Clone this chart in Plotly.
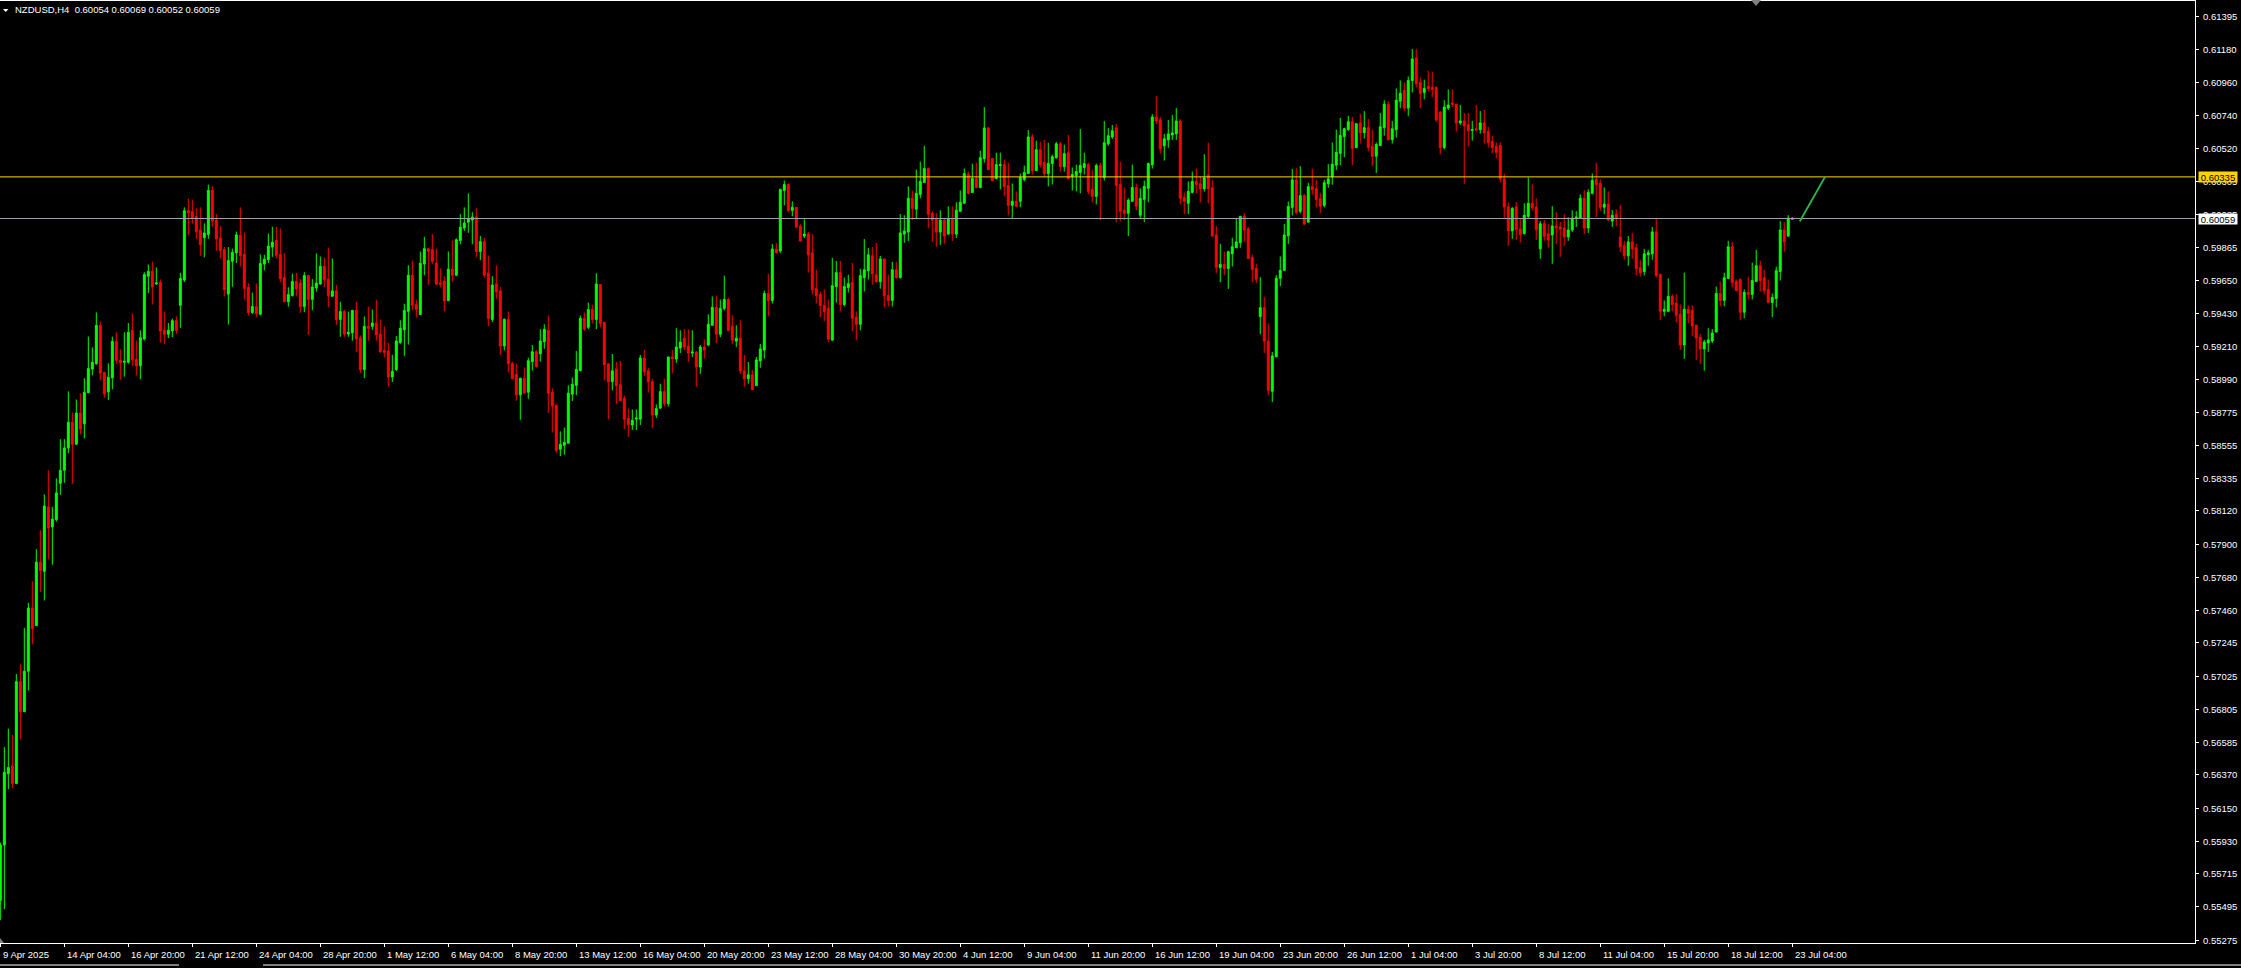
import plotly.graph_objects as go

# ---------------- data (NZDUSD, H4) ----------------
OPEN = [
0.55537,0.55906,0.56378,0.56430,0.56314,0.56988,0.56789,0.57058,0.57476,0.57360,
0.57781,0.57720,0.58146,0.58015,0.58063,0.58304,0.58390,0.58538,0.58708,0.58563,
0.58769,0.58698,0.58904,0.59061,0.59096,0.59350,0.59038,0.58910,0.59003,0.59244,
0.59119,0.59106,0.59106,0.59318,0.59125,0.59083,0.59260,0.59677,0.59709,0.59626,
0.59635,0.59318,0.59292,0.59314,0.59382,0.59484,0.59651,0.60110,0.60104,0.60072,
0.59982,0.59931,0.59953,0.60245,0.60049,0.59927,0.59854,0.59558,0.59776,0.59831,
0.59947,0.59821,0.59603,0.59436,0.59475,0.59424,0.59757,0.59786,0.59870,0.59914,
0.59821,0.59667,0.59507,0.59549,0.59642,
0.59631,0.59475,0.59681,0.59523,0.59599,
0.59625,0.59742,0.59657,0.59544,0.59579,0.59390,0.59442,0.59294,0.59301,0.59449,
0.59266,0.59058,0.59344,0.59344,0.59366,0.59292,0.59184,0.59181,0.59008,0.59058,
0.59236,0.59321,0.59444,0.59683,0.59488,0.59423,0.59757,0.59859,0.59853,0.59762,
0.59631,0.59644,0.59514,0.59723,0.59683,0.59914,0.59996,0.60035,0.60049,0.60068,
0.59840,0.59905,0.59697,0.59390,0.59625,0.59579,0.59214,0.59390,0.59097,0.59025,
0.58890,0.58999,0.58908,0.59110,0.59175,0.59162,0.59242,0.59318,0.58908,0.58819,
0.58530,0.58556,0.58569,0.58895,0.58953,0.59051,0.59397,0.59338,0.59455,0.59390,
0.59621,0.59371,0.59095,0.58977,0.59062,0.58957,0.58865,0.58734,0.58690,0.58729,
0.58729,0.59134,0.59049,0.58977,0.58756,0.58802,0.58911,0.58832,0.59141,0.59128,
0.59200,0.59266,0.59213,0.59167,0.59174,0.59075,0.59207,0.59220,0.59351,0.59470,
0.59292,0.59463,0.59522,0.59345,0.59246,0.59266,0.59049,0.58997,0.59023,0.58951,
0.59115,0.59187,0.59562,0.59516,0.59857,0.59844,0.60245,0.60284,0.60113,0.60133,
0.60008,0.59943,0.59956,0.59831,0.59594,0.59555,0.59483,0.59463,0.59253,0.59608,
0.59700,0.59489,0.59601,0.59634,0.59404,0.59358,0.59667,0.59713,0.59811,0.59686,
0.59640,0.59791,0.59548,0.59516,0.59719,
0.59667,0.59956,0.59969,0.60193,0.60121,
0.60219,0.60298,0.60390,0.60094,0.60055,0.59969,0.60048,0.59956,0.60055,0.59956,
0.60107,0.60160,0.60351,0.60232,0.60324,0.60265,0.60456,0.60659,0.60456,0.60324,
0.60410,0.60416,0.60278,0.60147,0.60173,0.60173,0.60318,0.60357,0.60600,0.60377,
0.60515,0.60430,0.60357,0.60423,0.60462,0.60554,0.60403,0.60495,0.60337,0.60344,
0.60364,0.60397,0.60416,0.60252,0.60206,0.60410,0.60331,0.60554,0.60600,0.60659,
0.60285,0.60114,0.60094,0.60173,0.60265,0.60081,0.60186,0.60259,0.60416,0.60732,
0.60712,0.60541,0.60580,0.60613,0.60620,0.60705,0.60199,0.60160,0.60232,0.60305,
0.60289,0.60256,0.60348,0.60263,0.59950,0.59735,0.59755,0.59728,0.59826,0.59865,
0.59898,0.60074,0.59989,0.59800,0.59728,0.59409,0.59468,0.59246,0.58914,0.59142,
0.59663,0.59715,0.59944,0.60133,0.60315,0.60107,0.60211,0.60035,0.60270,0.60256,
0.60191,0.60146,0.60289,0.60335,0.60413,0.60491,0.60602,0.60648,0.60700,0.60530,
0.60693,0.60628,0.60661,0.60537,0.60472,0.60543,0.60661,0.60817,0.60582,0.60648,
0.60837,0.60908,0.60791,0.60974,0.61123,0.60961,0.60895,0.60934,0.60928,0.60928,
0.60765,0.60530,0.60791,0.60824,0.60817,0.60693,0.60706,0.60680,0.60643,0.60654,
0.60648,0.60693,0.60635,0.60569,0.60537,
0.60543,0.60322,0.60136,0.59978,0.60136,
0.59989,0.59959,0.60073,0.60160,0.60134,0.59858,0.60024,0.59957,0.59950,0.60009,
0.60003,0.59996,0.59937,0.59983,0.60062,0.60062,0.60193,0.59996,0.60226,0.60318,
0.60292,0.60134,0.60154,0.60042,0.60088,0.59937,0.59878,0.59812,0.59904,0.59865,
0.59733,0.59707,0.59819,0.59825,0.59970,0.59687,0.59444,0.59444,0.59543,0.59497,
0.59424,0.59221,0.59457,0.59451,0.59352,0.59273,0.59194,0.59234,0.59247,0.59306,
0.59562,0.59516,0.59661,0.59871,0.59641,0.59654,0.59438,0.59569,0.59556,0.59641,
0.59746,0.59667,0.59589,0.59503,0.59529,0.59707,0.59983,0.59943,0.60054]

HIGH = [
0.55922,0.56555,0.56677,0.56635,0.57039,0.57103,0.57344,0.57511,0.57655,0.57867,
0.57992,0.58230,0.58390,0.58146,0.58336,0.58596,0.58596,0.58913,0.58772,0.58859,
0.58900,0.59000,0.59276,0.59205,0.59436,0.59375,0.59045,0.59099,0.59276,0.59305,
0.59192,0.59305,0.59366,0.59430,0.59250,0.59318,0.59703,0.59754,0.59773,0.59735,
0.59655,0.59443,0.59366,0.59395,0.59411,0.59699,0.60133,0.60190,0.60184,0.60126,
0.60133,0.60027,0.60284,0.60274,0.60088,0.60011,0.59870,0.59870,0.59860,0.59972,
0.60133,0.59966,0.59629,0.59568,0.59629,0.59821,0.59818,0.59959,0.60004,0.60004,
0.59991,0.59828,0.59603,0.59693,0.59699,
0.59657,0.59703,0.59681,0.59657,0.59827,
0.59807,0.59801,0.59866,0.59794,0.59618,0.59507,0.59455,0.59442,0.59455,0.59507,
0.59284,0.59410,0.59475,0.59455,0.59521,0.59390,0.59344,0.59234,0.59155,0.59279,
0.59384,0.59494,0.59749,0.59781,0.59521,0.59840,0.59938,0.59866,0.59957,0.59859,
0.59729,0.59677,0.59840,0.59912,0.59927,0.60088,0.60133,0.60225,0.60101,0.60127,
0.59944,0.59931,0.59814,0.59677,0.59749,0.59605,0.59397,0.59442,0.59110,0.59097,
0.59005,0.59071,0.59136,0.59221,0.59188,0.59325,0.59358,0.59416,0.58934,0.58829,
0.58647,0.58673,0.58953,0.59005,0.59181,0.59416,0.59436,0.59501,0.59488,0.59696,
0.59621,0.59371,0.59102,0.59161,0.59108,0.59115,0.58885,0.58799,0.58793,0.58793,
0.59154,0.59187,0.59069,0.58997,0.58826,0.58964,0.58997,0.59141,0.59187,0.59332,
0.59318,0.59325,0.59325,0.59318,0.59180,0.59220,0.59259,0.59424,0.59542,0.59548,
0.59522,0.59680,0.59535,0.59417,0.59351,0.59384,0.59154,0.59108,0.59056,0.59141,
0.59227,0.59581,0.59693,0.59890,0.59897,0.60258,0.60311,0.60291,0.60173,0.60133,
0.60021,0.60054,0.59969,0.59956,0.59719,0.59575,0.59588,0.59522,0.59798,0.59778,
0.59778,0.59667,0.59686,0.59765,0.59443,0.59726,0.59923,0.59864,0.59870,0.59897,
0.59811,0.59791,0.59686,0.59772,0.59772,
0.60088,0.60081,0.60272,0.60245,0.60383,
0.60436,0.60541,0.60397,0.60107,0.60094,0.60114,0.60061,0.60140,0.60140,0.60167,
0.60245,0.60390,0.60370,0.60423,0.60429,0.60508,0.60797,0.60666,0.60462,0.60495,
0.60495,0.60449,0.60429,0.60291,0.60239,0.60357,0.60410,0.60646,0.60620,0.60574,
0.60567,0.60580,0.60561,0.60482,0.60567,0.60567,0.60548,0.60613,0.60397,0.60416,
0.60653,0.60495,0.60430,0.60383,0.60423,0.60430,0.60705,0.60659,0.60679,0.60686,
0.60436,0.60265,0.60193,0.60416,0.60291,0.60259,0.60311,0.60430,0.60751,0.60870,
0.60732,0.60620,0.60712,0.60745,0.60791,0.60718,0.60232,0.60305,0.60370,0.60390,
0.60335,0.60485,0.60563,0.60315,0.60009,0.59891,0.59839,0.59846,0.59931,0.60061,
0.60074,0.60093,0.60002,0.59820,0.59755,0.59670,0.59539,0.59363,0.59174,0.59683,
0.59807,0.60022,0.60172,0.60387,0.60393,0.60406,0.60224,0.60296,0.60387,0.60315,
0.60230,0.60315,0.60419,0.60563,0.60648,0.60726,0.60661,0.60739,0.60732,0.60693,
0.60752,0.60771,0.60719,0.60648,0.60563,0.60758,0.60843,0.60837,0.60706,0.60921,
0.60974,0.60961,0.61000,0.61182,0.61182,0.60993,0.60980,0.61039,0.61032,0.60934,
0.60771,0.60843,0.60915,0.60915,0.60817,0.60811,0.60758,0.60758,0.60706,0.60811,
0.60771,0.60778,0.60667,0.60609,0.60563,
0.60563,0.60357,0.60167,0.60136,0.60167,
0.60055,0.60160,0.60331,0.60285,0.60193,0.60042,0.60049,0.60022,0.60141,0.60101,
0.60035,0.60088,0.60068,0.60114,0.60108,0.60219,0.60246,0.60252,0.60357,0.60430,
0.60318,0.60265,0.60239,0.60114,0.60121,0.60147,0.59911,0.59943,0.59963,0.59891,
0.59786,0.59858,0.59851,0.60003,0.60055,0.59694,0.59516,0.59661,0.59556,0.59556,
0.59490,0.59700,0.59484,0.59484,0.59352,0.59293,0.59254,0.59332,0.59326,0.59608,
0.59641,0.59700,0.59911,0.59904,0.59654,0.59661,0.59589,0.59674,0.59766,0.59851,
0.59779,0.59720,0.59654,0.59562,0.59740,0.60042,0.60035,0.60081,0.60069]

LOW = [
0.55409,0.55480,0.56275,0.56282,0.56308,0.56606,0.56789,0.56930,0.57238,0.57360,
0.57582,0.57527,0.57800,0.57764,0.58050,0.58227,0.58307,0.58503,0.58300,0.58557,
0.58628,0.58602,0.58904,0.59019,0.59090,0.58987,0.58872,0.58856,0.58926,0.59096,
0.58990,0.59010,0.59096,0.59083,0.59019,0.58994,0.59250,0.59565,0.59488,0.59619,
0.59237,0.59225,0.59266,0.59273,0.59295,0.59334,0.59638,0.59950,0.60024,0.59924,
0.59812,0.59802,0.59924,0.60004,0.59844,0.59793,0.59542,0.59356,0.59606,0.59764,
0.59741,0.59523,0.59414,0.59427,0.59404,0.59417,0.59716,0.59764,0.59805,0.59796,
0.59638,0.59507,0.59475,0.59542,0.59542,
0.59434,0.59438,0.59288,0.59451,0.59575,
0.59620,0.59603,0.59471,0.59540,0.59353,0.59275,0.59275,0.59275,0.59249,0.59175,
0.59034,0.59001,0.59249,0.59321,0.59249,0.59171,0.59138,0.58949,0.58975,0.59047,
0.59229,0.59149,0.59223,0.59451,0.59403,0.59418,0.59683,0.59620,0.59757,0.59616,
0.59601,0.59444,0.59514,0.59640,0.59677,0.59888,0.59977,0.59964,0.59888,0.59801,
0.59783,0.59664,0.59347,0.59373,0.59527,0.59155,0.59184,0.59040,0.58992,0.58851,
0.58725,0.58897,0.58864,0.59051,0.59071,0.59110,0.59195,0.58771,0.58640,0.58506,
0.58484,0.58493,0.58569,0.58849,0.58888,0.59045,0.59314,0.59327,0.59364,0.59325,
0.59338,0.58986,0.58729,0.58920,0.58828,0.58852,0.58664,0.58611,0.58657,0.58657,
0.58690,0.59016,0.58905,0.58670,0.58736,0.58795,0.58813,0.58813,0.59032,0.59102,
0.59167,0.59187,0.59108,0.59141,0.58944,0.59029,0.59130,0.59213,0.59351,0.59233,
0.59272,0.59450,0.59312,0.59226,0.59207,0.59029,0.58944,0.58964,0.58924,0.58951,
0.59069,0.59130,0.59410,0.59496,0.59831,0.59831,0.60146,0.60100,0.60074,0.59995,
0.59910,0.59929,0.59700,0.59555,0.59496,0.59404,0.59378,0.59240,0.59246,0.59502,
0.59443,0.59476,0.59568,0.59312,0.59253,0.59318,0.59575,0.59654,0.59621,0.59634,
0.59594,0.59470,0.59476,0.59476,0.59660,
0.59661,0.59897,0.59910,0.60048,0.60055,
0.60193,0.60298,0.59996,0.59904,0.59871,0.59884,0.59891,0.59950,0.59910,0.59930,
0.60101,0.60160,0.60219,0.60232,0.60259,0.60259,0.60429,0.60383,0.60305,0.60318,
0.60252,0.60206,0.60081,0.60061,0.60140,0.60134,0.60305,0.60357,0.60351,0.60377,
0.60397,0.60337,0.60272,0.60285,0.60456,0.60370,0.60370,0.60324,0.60245,0.60239,
0.60226,0.60351,0.60219,0.60167,0.60153,0.60048,0.60311,0.60541,0.60587,0.60035,
0.60042,0.60048,0.59943,0.60173,0.60114,0.60055,0.60035,0.60167,0.60390,0.60686,
0.60489,0.60443,0.60528,0.60580,0.60580,0.60153,0.60088,0.60088,0.60226,0.60226,
0.60165,0.60237,0.60159,0.59937,0.59696,0.59637,0.59683,0.59592,0.59741,0.59865,
0.59865,0.59904,0.59794,0.59637,0.59631,0.59292,0.59168,0.58887,0.58842,0.59142,
0.59611,0.59715,0.59891,0.60080,0.60087,0.60093,0.60015,0.60035,0.60217,0.60133,
0.60093,0.60133,0.60263,0.60283,0.60380,0.60413,0.60465,0.60641,0.60413,0.60524,
0.60556,0.60589,0.60504,0.60406,0.60361,0.60543,0.60609,0.60576,0.60556,0.60596,
0.60791,0.60771,0.60739,0.60895,0.60928,0.60791,0.60850,0.60902,0.60863,0.60700,
0.60485,0.60517,0.60778,0.60798,0.60635,0.60680,0.60289,0.60537,0.60576,0.60635,
0.60622,0.60556,0.60530,0.60491,0.60459,
0.60300,0.60057,0.59878,0.59924,0.59917,
0.59900,0.59952,0.60062,0.60114,0.59917,0.59792,0.59911,0.59865,0.59759,0.59891,
0.59805,0.59878,0.59911,0.59970,0.60003,0.60062,0.59957,0.59963,0.60219,0.60068,
0.60108,0.60088,0.60042,0.60003,0.60009,0.59838,0.59786,0.59746,0.59792,0.59681,
0.59674,0.59681,0.59746,0.59786,0.59667,0.59385,0.59411,0.59438,0.59444,0.59372,
0.59188,0.59129,0.59365,0.59280,0.59122,0.59096,0.59050,0.59175,0.59234,0.59306,
0.59477,0.59477,0.59661,0.59602,0.59582,0.59385,0.59398,0.59523,0.59523,0.59641,
0.59575,0.59556,0.59497,0.59405,0.59470,0.59648,0.59838,0.59937,0.60052]

CLOSE = [
0.55906,0.56388,0.56420,0.56314,0.56988,0.56789,0.57058,0.57476,0.57341,0.57781,
0.57726,0.58153,0.58008,0.58066,0.58239,0.58390,0.58538,0.58708,0.58563,0.58769,
0.58663,0.58907,0.59064,0.59106,0.59350,0.59035,0.58897,0.59006,0.59244,0.59119,
0.59103,0.59112,0.59305,0.59122,0.59083,0.59269,0.59687,0.59709,0.59606,0.59632,
0.59314,0.59292,0.59318,0.59382,0.59318,0.59661,0.60110,0.60097,0.60062,0.59972,
0.59886,0.59963,0.60245,0.60043,0.59924,0.59847,0.59587,0.59780,0.59834,0.59950,
0.59812,0.59597,0.59436,0.59475,0.59427,0.59760,0.59789,0.59876,0.59902,0.59815,
0.59661,0.59507,0.59555,0.59642,0.59594,
0.59475,0.59681,0.59523,0.59605,0.59631,
0.59742,0.59653,0.59549,0.59579,0.59390,0.59442,0.59294,0.59305,0.59449,0.59262,
0.59058,0.59344,0.59331,0.59366,0.59288,0.59175,0.59173,0.59008,0.59045,0.59247,
0.59331,0.59449,0.59683,0.59484,0.59457,0.59762,0.59859,0.59842,0.59775,0.59625,
0.59625,0.59514,0.59723,0.59683,0.59918,0.60001,0.60029,0.60055,0.60068,0.59840,
0.59905,0.59683,0.59397,0.59618,0.59573,0.59214,0.59390,0.59097,0.58999,0.58890,
0.58999,0.58903,0.59116,0.59175,0.59077,0.59247,0.59325,0.58901,0.58816,0.58523,
0.58562,0.58575,0.58901,0.58960,0.59058,0.59397,0.59327,0.59455,0.59390,0.59625,
0.59364,0.59091,0.58977,0.59049,0.58951,0.58852,0.58729,0.58694,0.58721,0.58736,
0.59134,0.59043,0.58977,0.58756,0.58799,0.58911,0.58832,0.59141,0.59130,0.59207,
0.59240,0.59207,0.59167,0.59174,0.59075,0.59207,0.59187,0.59358,0.59470,0.59292,
0.59463,0.59522,0.59318,0.59253,0.59266,0.59049,0.58997,0.59023,0.58924,0.59121,
0.59194,0.59562,0.59516,0.59857,0.59831,0.60251,0.60284,0.60113,0.60133,0.60002,
0.59910,0.59956,0.59818,0.59588,0.59548,0.59483,0.59443,0.59259,0.59614,0.59700,
0.59489,0.59608,0.59627,0.59397,0.59358,0.59680,0.59719,0.59818,0.59693,0.59640,
0.59791,0.59548,0.59516,0.59719,0.59667,
0.59963,0.59976,0.60193,0.60127,0.60226,
0.60305,0.60390,0.60088,0.60048,0.59969,0.60048,0.59943,0.60055,0.59956,0.60114,
0.60167,0.60357,0.60226,0.60324,0.60265,0.60462,0.60659,0.60383,0.60311,0.60416,
0.60416,0.60272,0.60147,0.60173,0.60140,0.60331,0.60364,0.60600,0.60377,0.60515,
0.60416,0.60357,0.60423,0.60469,0.60554,0.60403,0.60489,0.60324,0.60351,0.60370,
0.60410,0.60423,0.60239,0.60206,0.60410,0.60337,0.60561,0.60607,0.60640,0.60278,
0.60107,0.60094,0.60180,0.60265,0.60140,0.60193,0.60272,0.60423,0.60732,0.60705,
0.60521,0.60587,0.60620,0.60626,0.60705,0.60193,0.60173,0.60239,0.60305,0.60285,
0.60256,0.60328,0.60256,0.59944,0.59735,0.59755,0.59728,0.59839,0.59872,0.59904,
0.60074,0.59983,0.59794,0.59722,0.59657,0.59468,0.59246,0.58920,0.59148,0.59663,
0.59715,0.59950,0.60139,0.60315,0.60100,0.60211,0.60022,0.60270,0.60250,0.60185,
0.60139,0.60296,0.60322,0.60419,0.60498,0.60609,0.60654,0.60700,0.60524,0.60687,
0.60628,0.60661,0.60530,0.60472,0.60550,0.60667,0.60817,0.60582,0.60654,0.60843,
0.60889,0.60791,0.60974,0.61117,0.60954,0.60889,0.60921,0.60921,0.60915,0.60713,
0.60530,0.60798,0.60811,0.60817,0.60693,0.60706,0.60674,0.60641,0.60648,0.60648,
0.60693,0.60628,0.60563,0.60530,0.60498,
0.60322,0.60136,0.59978,0.60125,0.59985,
0.59952,0.60081,0.60160,0.60130,0.59985,0.60024,0.59941,0.59917,0.60009,0.59996,
0.59989,0.59937,0.59983,0.60062,0.60068,0.60193,0.59996,0.60232,0.60311,0.60285,
0.60134,0.60154,0.60049,0.60081,0.60062,0.59871,0.59812,0.59904,0.59858,0.59727,
0.59700,0.59825,0.59832,0.59970,0.59681,0.59444,0.59457,0.59543,0.59490,0.59418,
0.59221,0.59457,0.59431,0.59346,0.59267,0.59194,0.59240,0.59254,0.59300,0.59562,
0.59516,0.59667,0.59871,0.59635,0.59582,0.59438,0.59569,0.59556,0.59648,0.59746,
0.59648,0.59582,0.59503,0.59536,0.59713,0.59983,0.59904,0.60062,0.60059]

BAR = list(range(len(OPEN)))

XTICK_BARS = [0, 16, 32, 48, 64, 80, 96, 112, 128, 144, 160, 176, 192, 208, 224,
              240, 256, 272, 288, 304, 320, 336, 352, 368, 384, 400, 416, 432, 448]
XTICK_TEXT = ["9 Apr 2025", "14 Apr 04:00", "16 Apr 20:00", "21 Apr 12:00", "24 Apr 04:00",
              "28 Apr 20:00", "1 May 12:00", "6 May 04:00", "8 May 20:00", "13 May 12:00",
              "16 May 04:00", "20 May 20:00", "23 May 12:00", "28 May 04:00", "30 May 20:00",
              "4 Jun 12:00", "9 Jun 04:00", "11 Jun 20:00", "16 Jun 12:00", "19 Jun 04:00",
              "23 Jun 20:00", "26 Jun 12:00", "1 Jul 04:00", "3 Jul 20:00", "8 Jul 12:00",
              "11 Jul 04:00", "15 Jul 20:00", "18 Jul 12:00", "23 Jul 04:00"]
YTICKS = [0.61395, 0.61180, 0.60960, 0.60740, 0.60520, 0.60305, 0.60085, 0.59865, 0.59650,
          0.59430, 0.59210, 0.58990, 0.58775, 0.58555, 0.58335, 0.58120, 0.57900, 0.57680,
          0.57460, 0.57245, 0.57025, 0.56805, 0.56585, 0.56370, 0.56150, 0.55930, 0.55715,
          0.55495, 0.55275]

LEVEL_GOLD = 0.60335
BID = 0.60059
TREND_BARS = [449.9, 456.2]
TREND_PRICES = [0.60040, 0.60335]
TITLE = "NZDUSD,H4\u00a0\u00a00.60054 0.60069 0.60052 0.60059"

Y_RANGE = [0.55256, 0.61501]
X_RANGE = [-0.08, 548.7]

FONT = "Liberation Sans, Arial, sans-serif"
W, H = 2241, 968
M_L, M_R, M_T, M_B = 0, 46, 1, 25
PLOT_W = W - M_L - M_R
PLOT_H = H - M_T - M_B

fig = go.Figure()
fig.add_trace(go.Candlestick(
    x=BAR, open=OPEN, high=HIGH, low=LOW, close=CLOSE,
    increasing=dict(line=dict(color="#00FF00", width=1), fillcolor="#00FF00"),
    decreasing=dict(line=dict(color="#FF0000", width=1), fillcolor="#FF0000"),
    whiskerwidth=0, hoverinfo="skip", showlegend=False,
))

fig.update_layout(
    width=W, height=H,
    margin=dict(l=M_L, r=M_R, t=M_T, b=M_B, pad=0),
    paper_bgcolor="black", plot_bgcolor="black",
    showlegend=False,
    font=dict(family=FONT, size=10, color="white"),
    xaxis=dict(
        range=X_RANGE, rangeslider=dict(visible=False),
        showgrid=False, zeroline=False,
        showline=True, linecolor="white", linewidth=1, mirror=True,
        ticks="outside", ticklen=3, tickcolor="white", tickwidth=1,
        tickvals=XTICK_BARS, showticklabels=False,
    ),
    yaxis=dict(
        side="right", range=Y_RANGE,
        tickvals=YTICKS, showticklabels=False,
        ticks="outside", ticklen=3, tickcolor="white", tickwidth=1,
        showgrid=False, zeroline=False,
        showline=True, linecolor="white", linewidth=1, mirror=True,
    ),
)

# price scale labels, left aligned just after the tick marks
for v in YTICKS:
    fig.add_annotation(x=1, xref="paper", y=v, yref="y", xanchor="left", yanchor="middle",
                       xshift=6, text=f"{v:.5f}", showarrow=False,
                       font=dict(family=FONT, size=9.5, color="white"))

# horizontal level + bid line
fig.add_shape(type="line", xref="paper", x0=0, x1=1, yref="y", y0=LEVEL_GOLD, y1=LEVEL_GOLD,
              line=dict(color="#FFD700", width=1))
fig.add_shape(type="line", xref="paper", x0=0, x1=1, yref="y", y0=BID, y1=BID,
              line=dict(color="#A0A0A8", width=1))
# trend line
fig.add_shape(type="line", xref="x", yref="y", x0=TREND_BARS[0], y0=TREND_PRICES[0],
              x1=TREND_BARS[1], y1=TREND_PRICES[1], line=dict(color="#2DB34A", width=2))

# price boxes on the axis
for price, bg in [(LEVEL_GOLD, "#FFD200"), (BID, "#FFFFFF")]:
    fig.add_annotation(x=1, xref="paper", y=price, yref="y", xanchor="left", yanchor="middle",
                       xshift=3, text=f"{price:.5f}", showarrow=False, bgcolor=bg,
                       width=38, height=10, borderpad=0,
                       font=dict(family=FONT, size=9.5, color="black"))

# time labels, left-aligned after each tick
for b, t in zip(XTICK_BARS, XTICK_TEXT):
    fig.add_annotation(x=b, xref="x", y=0, yref="paper", xanchor="left", yanchor="top",
                       xshift=1, yshift=-4, text=t, showarrow=False,
                       font=dict(family=FONT, size=9.5, color="white"))

# title
fig.add_annotation(x=0, xref="paper", y=1, yref="paper", xanchor="left", yanchor="top",
                   xshift=13, yshift=-1, text=TITLE, showarrow=False,
                   font=dict(family=FONT, size=9.5, color="white"))
fig.add_shape(type="path", xref="paper", yref="paper", xsizemode="pixel", ysizemode="pixel",
              xanchor=0, yanchor=1, path="M 3,-8 L 8.5,-8 L 5.75,-11 Z",
              fillcolor="white", line=dict(width=0))
# chart-shift marker at the top and corner marker at bottom-left
fig.add_shape(type="path", xref="paper", yref="paper", xsizemode="pixel", ysizemode="pixel",
              xanchor=1756 / PLOT_W, yanchor=1, path="M -5,1 L 5,1 L 0,-5 Z",
              fillcolor="#808080", line=dict(width=0))
fig.add_shape(type="path", xref="paper", yref="paper", xsizemode="pixel", ysizemode="pixel",
              xanchor=0, yanchor=0, path="M 0,0 L 0,5 L 4,0 Z",
              fillcolor="#808080", line=dict(width=0))
# window bottom border line
yb = -(965 - (H - M_B)) / PLOT_H
fig.add_shape(type="line", xref="paper", yref="paper", x0=0, x1=179 / PLOT_W, y0=yb, y1=yb,
              line=dict(color="white", width=1))
fig.add_shape(type="line", xref="paper", yref="paper", x0=263 / PLOT_W, x1=W / PLOT_W, y0=yb, y1=yb,
              line=dict(color="white", width=1))

fig.write_html("out.html",
               config={"displayModeBar": False, "staticPlot": False},
               post_script="document.body.style.margin='0px';document.body.style.overflow='hidden';")
